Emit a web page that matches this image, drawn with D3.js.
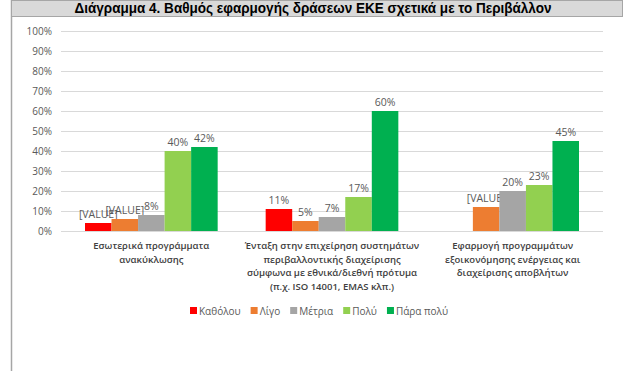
<!DOCTYPE html>
<html>
<head>
<meta charset="utf-8">
<script src="https://cdn.jsdelivr.net/npm/d3@7"></script>
<style>
body { margin: 0; background: #fff; }
svg text { font-family: "Open Sans", "Noto Sans", sans-serif; }
</style>
</head>
<body>
<div id="chart"></div>
<script>
// chart data
var categories = [
    ["Εσωτερικά προγράμματα", "ανακύκλωσης"],
    ["Ένταξη στην επιχείρηση συστημάτων", "περιβαλλοντικής διαχείρισης", "σύμφωνα με εθνικά/διεθνή πρότυμα", "(π.χ. ISO 14001, EMAS κλπ.)"],
    ["Εφαρμογή προγραμμάτων", "εξοικονόμησης ενέργειας και", "διαχείρισης αποβλήτων"]
];
var seriesNames = ["Καθόλου", "Λίγο", "Μέτρια", "Πολύ", "Πάρα πολύ"];
var seriesColors = ["#ff0000", "#ed7d31", "#a5a5a5", "#92d050", "#00b050"];

var katholou = [0.04, 0.11, 0];
var ligo     = [0.06, 0.05, 0.12];
var metria   = [0.08, 0.07, 0.20];
var poly     = [0.40, 0.17, 0.23];
var paraPoly = [0.42, 0.60, 0.45];

// labels as they appear (some were left as "[VALUE]")
var katholouLabels = ["[VALUE]", "11%", ""];
var ligoLabels     = ["[VALUE]", "5%", "[VALUE]"];
var metriaLabels   = ["8%", "7%", "20%"];
var polyLabels     = ["40%", "17%", "23%"];
var paraPolyLabels = ["42%", "60%", "45%"];

var yTicks = [0, 0.1, 0.2, 0.3, 0.4, 0.5, 0.6, 0.7, 0.8, 0.9, 1.0];
var title = "Διάγραμμα 4. Βαθμός εφαρμογής δράσεων ΕΚΕ σχετικά με το Περιβάλλον";

var allValues = [katholou, ligo, metria, poly, paraPoly];
var allLabels = [katholouLabels, ligoLabels, metriaLabels, polyLabels, paraPolyLabels];

var width = 633, height = 371;
var svg = d3.select("#chart").append("svg")
    .attr("width", width)
    .attr("height", height);

// frame + title bar
svg.append("line")
    .attr("x1", 11.5).attr("x2", 11.5)
    .attr("y1", 0).attr("y2", height)
    .attr("stroke", "#a6a6a6").attr("stroke-width", 1.5);
svg.append("rect")
    .attr("x", 11.5).attr("y", 0.5)
    .attr("width", 611).attr("height", 16)
    .attr("fill", "#d9d9d9")
    .attr("stroke", "#a6a6a6");
svg.append("text")
    .attr("x", 313).attr("y", 13)
    .attr("text-anchor", "middle")
    .attr("textLength", 477)
    .attr("lengthAdjust", "spacingAndGlyphs")
    .style("font-family", "'Liberation Sans Narrow', 'Liberation Sans', Arial, sans-serif")
    .style("font-weight", "bold")
    .style("font-size", "14px")
    .attr("fill", "#000")
    .text(title);

// scales
var x0 = d3.scaleBand()
    .domain(d3.range(categories.length))
    .range([61, 603]);
var bw = x0.bandwidth();
var x1 = d3.scaleBand()
    .domain(d3.range(seriesNames.length))
    .range([24, bw - 24]);
var y = d3.scaleLinear()
    .domain([0, 1])
    .range([231, 31]);

// grid
var yAxis = d3.axisLeft(y)
    .tickValues(yTicks)
    .tickSize(-(603 - 61))
    .tickPadding(9)
    .tickFormat(d3.format(".0%"));
var gy = svg.append("g")
    .attr("transform", "translate(61,0)")
    .call(yAxis);
gy.select(".domain").remove();
gy.selectAll(".tick line").attr("stroke", "#d9d9d9");
gy.selectAll(".tick text")
    .attr("fill", "#595959")
    .style("font-size", "10px");

// bars
var groups = svg.selectAll("g.series")
    .data(allValues)
    .enter().append("g")
    .attr("class", "series")
    .attr("fill", function(d, i){ return seriesColors[i]; });

groups.each(function(vals, si){
    var g = d3.select(this);
    g.selectAll("rect")
        .data(vals)
        .enter().append("rect")
        .attr("x", function(d, ci){ return x0(ci) + x1(si); })
        .attr("width", x1.bandwidth())
        .attr("y", function(d){ return y(d); })
        .attr("height", function(d){ return y(0) - y(d); });

    g.selectAll("text")
        .data(vals)
        .enter().append("text")
        .attr("x", function(d, ci){ return x0(ci) + x1(si) + x1.bandwidth() / 2; })
        .attr("y", function(d){ return y(d) - 5; })
        .attr("text-anchor", "middle")
        .attr("fill", "#595959")
        .style("font-size", "10.5px")
        .text(function(d, ci){ return allLabels[si][ci]; });
});

// category labels
var cat = svg.selectAll("text.cat")
    .data(categories)
    .enter().append("text")
    .attr("class", "cat")
    .attr("text-anchor", "middle")
    .attr("fill", "#404040")
    .style("font-size", "9.5px")
    .style("font-weight", "600");
cat.each(function(lines, ci){
    d3.select(this).selectAll("tspan")
        .data(lines)
        .enter().append("tspan")
        .attr("x", x0(ci) + bw / 2)
        .attr("y", function(d, i){ return 249 + i * 13.5; })
        .text(function(d){ return d; });
});

// legend
var legend = svg.append("g").attr("transform", "translate(190,311)");
var lx = 0;
seriesNames.forEach(function(name, i){
    var item = legend.append("g").attr("transform", "translate(" + lx + ",0)");
    item.append("rect")
        .attr("x", 0).attr("y", -4)
        .attr("width", 7).attr("height", 7)
        .attr("fill", seriesColors[i]);
    var t = item.append("text")
        .attr("x", 9).attr("y", 3.5)
        .attr("fill", "#595959")
        .style("font-size", "10px")
        .text(name);
    lx += 9 + t.node().getComputedTextLength() + 10;
});
</script>
</body>
</html>
